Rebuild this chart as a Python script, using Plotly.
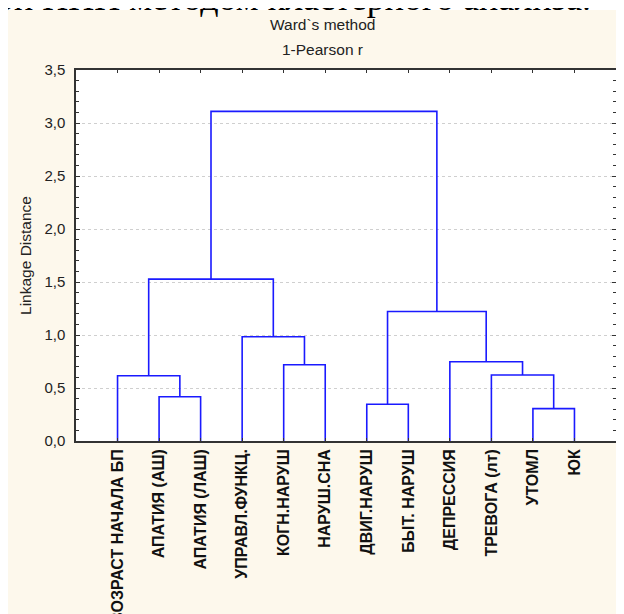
import plotly.graph_objects as go

# ---- data ----
leaf_labels = ["ВОЗРАСТ НАЧАЛА БП", "АПАТИЯ (АШ)", "АПАТИЯ (ЛАШ)", "УПРАВЛ.ФУНКЦ.",
               "КОГН.НАРУШ", "НАРУШ.СНА", "ДВИГ.НАРУШ", "БЫТ. НАРУШ",
               "ДЕПРЕССИЯ", "ТРЕВОГА (лт)", "УТОМЛ", "ЮК"]
# merges: children 0..11 are leaves, 12+ are earlier merges (in list order)
merge_left = [1, 0, 4, 3, 13, 6, 10, 9, 8, 17, 16]
merge_right = [2, 12, 5, 14, 15, 7, 11, 18, 19, 20, 21]
merge_height = [0.418, 0.616, 0.719, 0.983, 1.527, 0.346, 0.305, 0.622, 0.747, 1.222, 3.11]

y_ticks = [0, 0.5, 1.0, 1.5, 2.0, 2.5, 3.0, 3.5]

n = len(leaf_labels)
xpos = {i: i + 1 for i in range(n)}
hpos = {i: 0.0 for i in range(n)}

xs, ys = [], []
for k, (a, b, h) in enumerate(zip(merge_left, merge_right, merge_height)):
    idx = n + k
    xa, xb = xpos[a], xpos[b]
    xs += [xa, xa, xb, xb, None]
    ys += [hpos[a], h, h, hpos[b], None]
    xpos[idx] = (xa + xb) / 2
    hpos[idx] = h

fig = go.Figure()
fig.add_trace(go.Scatter(x=xs, y=ys, mode="lines",
                         line=dict(color="#1a1aff", width=1.6),
                         hoverinfo="skip", showlegend=False))

# page geometry (page has 8px body margin)
OFF = 8
W, H = 624 - OFF, 614 - OFF
L, R, T, B = 76, 616, 70, 441   # plot area in page pixels


def py(page_y):
    return (B - page_y) / (B - T)


def pxx(page_x):
    return (page_x - L) / (R - L)


cream = "#fdf8ec"
SANS = "Arial, Liberation Sans, sans-serif"
fig.update_layout(
    width=W, height=H,
    margin=dict(l=L - OFF, r=W - (R - OFF), t=T - OFF, b=H - (B - OFF), autoexpand=False),
    paper_bgcolor=cream,
    plot_bgcolor="white",
    separators=", ",
    font=dict(family=SANS, color="#222"),
    shapes=[dict(type="rect", xref="paper", yref="paper", layer="below",
                 x0=pxx(0), x1=pxx(700), y0=py(10), y1=py(-5),
                 fillcolor="white", line=dict(width=0))],
    annotations=[
        dict(text="Ward`s method", xref="paper", yref="paper", x=pxx(322), y=py(24),
             showarrow=False, xanchor="center", yanchor="middle",
             font=dict(size=15.5, family=SANS, color="#222")),
        dict(text="1-Pearson r", xref="paper", yref="paper", x=pxx(322), y=py(49),
             showarrow=False, xanchor="center", yanchor="middle",
             font=dict(size=15.5, family=SANS, color="#222")),
        dict(text="ой НПИ методом кластерного анализа.", xref="paper", yref="paper",
             x=pxx(-6), y=py(20.5), showarrow=False, xanchor="left", yanchor="bottom",
             font=dict(size=36, family="Liberation Serif, Times New Roman, serif", color="black")),
    ],
)

fig.update_xaxes(range=[0, n + 1], tickmode="array", tickvals=list(range(1, n + 1)),
                 ticktext=[f"<b>{t}</b>" for t in leaf_labels], tickangle=-90,
                 tickfont=dict(size=16, family=SANS, color="#111"), automargin=False,
                 showgrid=False, zeroline=False, showline=True, linecolor="#333", linewidth=1.5,
                 mirror="ticks", ticks="inside", ticklen=3, tickcolor="#333")
fig.update_yaxes(range=[0, 3.5], tickmode="array", tickvals=y_ticks,
                 tickformat=".1f", ticklabelstandoff=6, automargin=False,
                 tickfont=dict(size=15, family=SANS, color="#222"),
                 title=dict(text="Linkage Distance", standoff=9,
                            font=dict(size=15.5, family=SANS, color="#222")),
                 showgrid=True, gridcolor="#cfcfcf", griddash="dot", gridwidth=1,
                 zeroline=False, showline=True, linecolor="#333", linewidth=1.5,
                 mirror="ticks", ticks="inside", ticklen=4, tickcolor="#333",
                 minor=dict(dtick=0.1, ticks="inside", ticklen=3, tickcolor="#333", showgrid=False))

fig.write_html("out.html")
